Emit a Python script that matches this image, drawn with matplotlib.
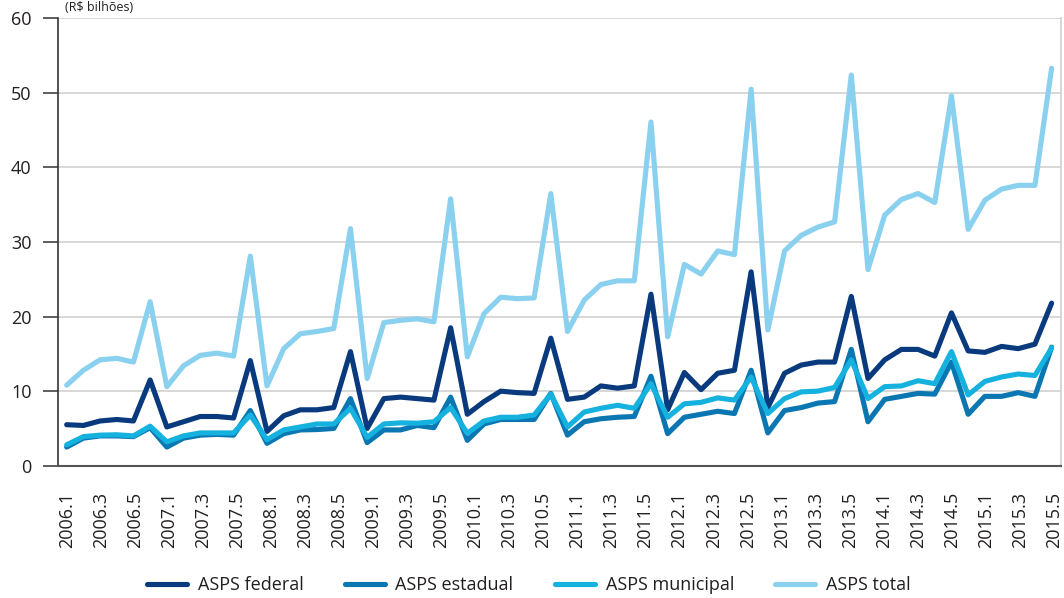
import numpy as np
import matplotlib
matplotlib.use('Agg')
import matplotlib.pyplot as plt

plt.rcParams['font.family'] = ['Open Sans', 'DejaVu Sans']

# bimestres 2006.1 ... 2015.6 (60 pontos), rótulos a cada dois
tick_labels = ['2006.1', '2006.3', '2006.5', '2007.1', '2007.3', '2007.5',
               '2008.1', '2008.3', '2008.5', '2009.1', '2009.3', '2009.5',
               '2010.1', '2010.3', '2010.5', '2011.1', '2011.3', '2011.5',
               '2012.1', '2012.3', '2012.5', '2013.1', '2013.3', '2013.5',
               '2014.1', '2014.3', '2014.5', '2015.1', '2015.3', '2015.5']

federal = [5.5, 5.4, 6.0, 6.2, 6.0, 11.5,
           5.2, 5.9, 6.6, 6.6, 6.4, 14.1,
           4.6, 6.7, 7.5, 7.5, 7.8, 15.3,
           5.0, 9.0, 9.2, 9.0, 8.8, 18.5,
           6.9, 8.6, 10.0, 9.8, 9.7, 17.1,
           8.9, 9.2, 10.7, 10.4, 10.7, 23.0,
           7.5, 12.5, 10.2, 12.4, 12.8, 26.0,
           7.8, 12.4, 13.5, 13.9, 13.9, 22.7,
           11.7, 14.2, 15.6, 15.6, 14.7, 20.5,
           15.4, 15.2, 16.0, 15.7, 16.3, 21.8]

estadual = [2.5, 3.7, 4.0, 4.0, 3.9, 5.1,
            2.5, 3.7, 4.1, 4.2, 4.1, 7.4,
            3.0, 4.3, 4.8, 4.85, 5.0, 9.0,
            3.1, 4.8, 4.8, 5.4, 5.1, 9.2,
            3.4, 5.6, 6.2, 6.2, 6.2, 9.7,
            4.1, 5.9, 6.3, 6.5, 6.6, 12.0,
            4.3, 6.5, 6.9, 7.3, 7.0, 12.8,
            4.4, 7.4, 7.8, 8.4, 8.6, 15.6,
            5.9, 8.9, 9.3, 9.7, 9.6, 13.9,
            6.9, 9.3, 9.3, 9.8, 9.3, 15.9]

municipal = [2.8, 3.9, 4.1, 4.15, 4.0, 5.3,
             3.2, 4.0, 4.4, 4.4, 4.4, 6.8,
             3.5, 4.8, 5.2, 5.6, 5.6, 7.7,
             3.8, 5.6, 5.75, 5.7, 5.9, 7.8,
             4.35, 6.0, 6.5, 6.5, 6.8, 9.6,
             5.2, 7.2, 7.7, 8.1, 7.7, 11.0,
             6.5, 8.3, 8.5, 9.1, 8.8, 11.9,
             7.0, 9.0, 9.9, 10.0, 10.5, 14.2,
             9.0, 10.6, 10.7, 11.4, 11.0, 15.3,
             9.5, 11.3, 11.9, 12.3, 12.1, 15.8]

total = [10.8, 12.8, 14.2, 14.4, 13.9, 22.0,
         10.6, 13.4, 14.8, 15.1, 14.7, 28.1,
         10.7, 15.7, 17.7, 18.0, 18.4, 31.8,
         11.7, 19.2, 19.5, 19.7, 19.3, 35.8,
         14.6, 20.4, 22.6, 22.4, 22.5, 36.5,
         18.0, 22.2, 24.3, 24.8, 24.8, 46.1,
         17.3, 27.0, 25.7, 28.8, 28.3, 50.5,
         18.2, 28.8, 30.9, 32.0, 32.7, 52.4,
         26.3, 33.6, 35.7, 36.5, 35.3, 49.6,
         31.7, 35.6, 37.1, 37.6, 37.6, 53.3]

series = [('ASPS federal', federal, '#0a3a7e'),
          ('ASPS estadual', estadual, '#0a77b2'),
          ('ASPS municipal', municipal, '#15b1df'),
          ('ASPS total', total, '#8ad0ef')]

x = np.arange(len(total))

fig = plt.figure(figsize=(10.64, 5.98), dpi=100)
ax = fig.add_axes([0.0545, 0.2212, 0.9425, 0.7482])

for name, vals, col in series:
    ax.plot(x, vals, color=col, lw=3.7, label=name,
            solid_joinstyle='round', solid_capstyle='round')

ax.set_ylim(0, 60)
ax.set_xlim(-0.52, 59.55)
ax.set_yticks(range(0, 61, 10))
ax.yaxis.grid(True, color='#d4d4d4', lw=1.3)
ax.set_axisbelow(True)

# os rótulos do eixo no original não coincidem exatamente com os pontos
ax.set_xticks(np.linspace(0, 59.15, len(tick_labels)))
ax.set_xticklabels(tick_labels, rotation=90)
ax.tick_params(axis='x', length=0, pad=19, labelsize=13, labelcolor='#231f20')
ax.tick_params(axis='y', length=11, width=1.1, color='#333333', pad=8,
               labelsize=13, labelcolor='#231f20')

ax.spines['left'].set_color('#333333')
ax.spines['left'].set_linewidth(1.2)
ax.spines['bottom'].set_color('#555555')
ax.spines['bottom'].set_linewidth(1.5)
ax.spines['right'].set_color('#cfcfcf')
ax.spines['right'].set_linewidth(1.2)
ax.spines['top'].set_visible(False)

fig.text(0.061, 0.999, '(R$ bilhões)', fontsize=9, color='#231f20',
         ha='left', va='top')

fig.legend(loc='center', bbox_to_anchor=(0.497, 0.022), ncol=4, frameon=False,
           fontsize=13, handlelength=2.2, handletextpad=0.6, columnspacing=2.3,
           labelcolor='#231f20')

fig.savefig('out.png', dpi=100)
